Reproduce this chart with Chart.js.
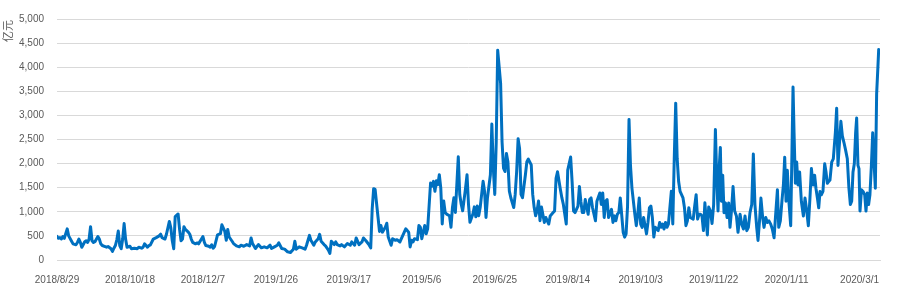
<!DOCTYPE html>
<html>
<head>
<meta charset="utf-8">
<script src="https://cdn.jsdelivr.net/npm/chart.js@4/dist/chart.umd.min.js"></script>
<style>
  html, body { margin: 0; padding: 0; background: #fff; }
  #wrap { width: 913px; height: 296px; }
</style>
</head>
<body>
<div id="wrap"><canvas id="chart" width="913" height="296"></canvas></div>
<script>
// day offsets from 2018/8/29 and daily amounts (亿元)
const startDate = [2018, 7, 29];
const days = [
  0, 1, 2, 3, 4, 5, 7, 8, 10, 11, 13, 14, 15, 16, 17, 19, 20, 21, 22, 23, 24, 25, 26, 28, 29, 30, 31, 32, 34, 35,
  37, 38, 39, 40, 41, 42, 43, 44, 45, 46, 47, 48, 50, 51, 53, 55, 56, 58, 59, 60, 62, 63, 64, 66, 68, 70, 71, 72, 74, 75,
  77, 78, 79, 80, 81, 83, 84, 85, 86, 87, 88, 90, 91, 92, 93, 95, 96, 97, 99, 100, 101, 102, 104, 105, 106, 107, 108,
  110, 112, 113, 115, 116, 117, 118, 120, 121, 123, 125, 126, 128, 130, 132, 133, 134, 136, 138, 140, 142, 144, 146, 147,
  149, 151, 152, 154, 156, 158, 160, 162, 163, 164, 166, 168, 170, 171, 173, 174, 176, 177, 179, 180, 181, 183, 184, 186,
  187, 188, 190, 191, 192, 194, 195, 197, 199, 201, 202, 204, 205, 207, 209, 210, 212, 214, 215, 216, 217, 218, 220, 221,
  222, 223, 225, 226, 227, 229, 230, 232, 233, 235, 236, 238, 239, 241, 242, 243, 244, 245, 247, 248, 249, 250, 251, 252,
  253, 254, 256, 257, 258, 259, 260, 261, 262, 263, 264, 265, 266, 267, 269, 270, 271, 272, 273, 275, 276, 277, 278, 280,
  281, 282, 283, 285, 286, 287, 288, 289, 290, 292, 293, 294, 295, 297, 298, 299, 300, 301, 302, 304, 305, 306, 307, 308,
  309, 310, 311, 313, 314, 315, 316, 317, 318, 319, 321, 322, 323, 325, 326, 327, 328, 329, 330, 331, 332, 334, 335, 337,
  338, 340, 341, 342, 343, 345, 346, 347, 349, 350, 352, 353, 354, 355, 357, 358, 359, 360, 361, 362, 364, 365, 366, 367,
  368, 369, 370, 372, 373, 374, 375, 376, 377, 378, 380, 381, 382, 383, 384, 385, 386, 388, 389, 390, 391, 392, 393, 394,
  396, 397, 398, 399, 400, 401, 402, 404, 405, 406, 407, 408, 409, 410, 412, 413, 414, 415, 416, 417, 418, 419, 421, 422,
  423, 424, 425, 426, 427, 429, 430, 431, 432, 433, 434, 436, 437, 438, 439, 440, 441, 442, 443, 444,
  445.1, 445.7, 446.6, 447.8, 448.9, 450.0, 451.2, 452.1, 453.0, 453.9, 454.6, 455.3, 456.2, 457.1, 458.1, 459.2, 460.3,
  461.2, 462.2, 463.3, 464.4, 465.6, 466.7, 468.1, 469.2, 470.4, 471.5, 472.7, 473.8, 474.9, 476.1, 477.2, 478.3, 479.5,
  480.4, 481.6, 482.4, 483.6, 484.5, 485.7, 486.8, 487.9, 489.1, 490.2, 491.4, 492.5, 493.7, 494.6, 495.7, 496.8, 497.8,
  498.7, 499.6, 500.5, 501.4, 502.8, 503.7, 504.4, 505.1, 506.0, 506.9, 507.8, 508.9, 510.1, 511.5, 512.6, 513.8, 514.9,
  516.0, 517.0, 518.1, 519.2, 520.1, 521.1, 522.0, 522.9, 523.8, 524.9, 526.1, 527.0, 527.9, 528.8, 529.7, 530.9, 532.0,
  533.4, 534.3, 535.2, 536.4, 537.2, 538.2, 539.3, 540.5, 541.6, 542.7, 543.7, 544.6, 545.5, 546.4, 547.3, 548.0, 548.9,
  549.6, 550.3, 551.3, 552.4, 553.5, 554.4, 555.3, 556.2, 557.1, 558.1, 559.0, 559.8, 560.8, 561.7, 562.6, 563.1
];
const amounts = [
  490, 450, 465, 435, 485, 450, 645, 500, 390, 335, 315, 365, 435, 365, 265, 380, 400, 365, 435, 690, 400, 365, 380, 485, 435, 335, 300, 290, 265, 280,
  235, 180, 245, 300, 420, 600, 300, 235, 435, 755, 435, 265, 285, 235, 245, 235, 265, 245, 265, 335, 265, 300, 315, 435, 465, 500, 535, 465, 435, 535,
  800, 665, 400, 235, 900, 955, 635, 400, 435, 690, 635, 580, 535, 435, 365, 335, 355, 335, 435, 485, 365, 300, 285, 265, 315, 245, 280,
  520, 545, 730, 593, 409, 634, 477, 389, 341, 293, 273, 307, 286, 320, 293, 457, 341, 239, 320, 252, 273, 252, 307, 239,
  273, 307, 355, 239, 225, 170, 157, 225, 389, 225, 273, 252, 225, 307, 511, 409, 307, 375, 443, 532, 389, 320, 293, 205,
  136, 389, 320, 375, 320, 293, 320, 273, 341, 307, 375, 307, 457, 320, 375, 457, 389, 307, 252, 1057, 1480, 1466, 887, 593,
  716, 578, 680, 762, 476, 306, 442, 408, 422, 374, 442, 578, 646, 578, 272, 408, 374, 442, 422, 714, 680, 442, 578, 714,
  544, 646, 1598, 1530, 1632, 1428, 1646, 1564, 1768, 1496, 748, 1224, 986, 952, 918, 680, 1088, 1292, 986, 2142, 1360, 1156, 1020, 1496,
  1768, 1156, 782, 952, 1102, 898, 1122, 918, 1088, 1632, 1428, 884, 1292, 1768, 2822, 1904, 1360, 2448, 4352, 3672, 2448, 1904, 1836, 2210,
  2040, 1428, 1292, 1088, 1360, 1836, 2516, 2312, 1360, 1292, 1768, 2040, 2094, 1972, 1360, 1088, 918, 1020, 1224, 816, 1100, 780, 881, 746,
  915, 983, 1017, 1695, 1831, 1458, 1288, 1153, 746, 1865, 2136, 1627, 1017, 983, 1119, 1526, 1220, 983, 983, 1254, 949, 1254, 1288, 1085,
  949, 814, 1220, 1390, 1153, 1390, 881, 1220, 1254, 881, 1051, 780, 915, 814, 949, 983, 1288, 576, 475, 542, 1119, 2915, 1966, 1492,
  949, 712, 949, 1288, 746, 678, 881, 542, 780, 1085, 1119, 881, 475, 678, 610, 780, 678, 746, 644, 780, 678, 746, 1424, 746,
  2102, 3254, 2102, 1627, 1424, 1288, 1085, 712, 814, 1085, 881, 848, 1119, 1356, 848, 949, 949, 915, 610, 1187,
  745, 520, 1100, 1016, 758, 1151, 2708, 1693, 1016, 1963, 2336, 1219, 1760, 982, 1185, 880, 1185,
  677, 1016, 1523, 1016, 914, 575, 948, 745, 643, 914, 609, 677, 982, 1151, 2200, 1151, 677,
  406, 880, 1286, 880, 677, 880, 779, 812, 745, 643, 460, 948, 1456, 677, 812, 1219, 1557,
  2133, 1219, 1862, 1286, 711, 2302, 3588, 2640, 1591, 2031, 1557, 1828, 1219, 914, 1286, 1016, 711,
  1286, 1896, 1557, 1760, 1489, 1286, 1083, 1422, 1354, 1422, 1997, 1828, 1591, 1625, 1659, 2031, 2099,
  2640, 3148, 1963, 2505, 2877, 2573, 2437, 2268, 2099, 1489, 1151, 1219, 1828, 1997, 2640, 2945, 1963,
  1896, 1016, 1456, 1422, 1354, 1016, 1388, 1151, 1354, 1963, 2640, 2099, 1489, 3453, 4028, 4367
];
const tickStep = 50;
const lastTick = 550;
const yUnit = '亿元';

const points = days.map((d, i) => ({ x: d, y: amounts[i] }));

function dayLabel(v) {
  const dt = new Date(Date.UTC(startDate[0], startDate[1], startDate[2] + v));
  return dt.getUTCFullYear() + '/' + (dt.getUTCMonth() + 1) + '/' + dt.getUTCDate();
}

const unitTitle = {
  id: 'unitTitle',
  afterDraw(chart) {
    const ctx = chart.ctx;
    ctx.save();
    ctx.translate(8, 20);
    ctx.rotate(-Math.PI / 2);
    ctx.font = '11px "Noto Sans CJK SC"';
    ctx.fillStyle = '#595959';
    ctx.textAlign = 'right';
    ctx.textBaseline = 'middle';
    ctx.fillText(yUnit, 0, 0);
    ctx.restore();
  }
};

new Chart(document.getElementById('chart'), {
  type: 'line',
  data: {
    datasets: [{
      data: points,
      borderColor: '#0070C0',
      borderWidth: 3,
      borderJoinStyle: 'round',
      borderCapStyle: 'round',
      pointRadius: 0,
      tension: 0,
      fill: false
    }]
  },
  options: {
    responsive: false,
    animation: false,
    layout: { padding: { top: 13, right: 33, left: 0, bottom: 0 } },
    plugins: { legend: { display: false }, tooltip: { enabled: false } },
    scales: {
      x: {
        type: 'linear',
        min: 0,
        max: 564,
        grid: { display: false },
        border: { display: true, color: '#d9d9d9' },
        afterBuildTicks: s => {
          const t = [];
          for (let v = 0; v <= lastTick; v += tickStep) t.push({ value: v });
          s.ticks = t;
        },
        afterFit: s => { s.height = 36; },
        ticks: {
          stepSize: tickStep,
          autoSkip: false,
          maxRotation: 0,
          padding: 6,
          color: '#595959',
          font: { family: 'Liberation Sans', size: 10 },
          callback: v => dayLabel(v)
        }
      },
      y: {
        min: 0,
        max: 5000,
        grid: { color: '#d9d9d9', drawTicks: false },
        border: { display: false },
        afterFit: s => { s.width = 57; },
        ticks: {
          stepSize: 500,
          padding: 13,
          color: '#595959',
          font: { family: 'Liberation Sans', size: 10 },
          callback: v => v.toLocaleString('en-US')
        }
      }
    }
  },
  plugins: [unitTitle]
});
</script>
</body>
</html>
